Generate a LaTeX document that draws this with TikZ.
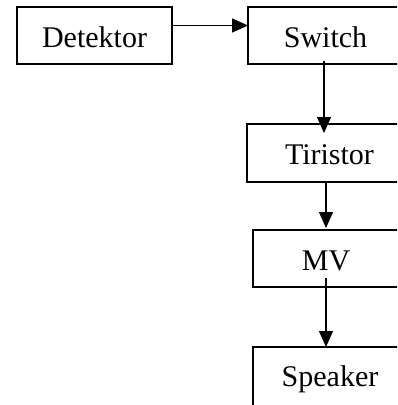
\documentclass[tikz,border=0pt]{standalone}
\usepackage{fontspec}
\setmainfont{Liberation Serif}
\usetikzlibrary{arrows.meta}
\begin{document}
\begin{tikzpicture}[x=1pt, y=-1pt,
  box/.style={draw, line width=2pt, inner sep=0pt, outer sep=0pt,
    minimum height=57pt, text height=25pt, text depth=2pt,
    font=\fontsize{30}{36}\selectfont},
  flow/.style={line width=1.3pt, -{Triangle[length=16pt, width=14pt]}}]
  \useasboundingbox (0,0) rectangle (397,405);
  \clip (0,0) rectangle (397,405);

  % blocks of the chain
  \node[box, minimum width=155pt] (det) at (94.5,35.5) {Detektor};
  \node[box, minimum width=155pt] (sw)  at (325.5,35.5) {Switch};
  \node[box, minimum width=165pt, minimum height=58pt] (tir) at (329.5,153) {Tiristor};
  \node[box, minimum width=146pt] (mv)  at (326,258.5) {MV};
  \node[box, minimum width=154pt, minimum height=64pt,
        text height=20pt, text depth=6pt] (spk) at (330,379) {Speaker};

  % signal path
  \draw[flow] ([yshift=10pt]det.east) -- ([yshift=10pt]det.east -| sw.west);
  \draw[flow] ([xshift=-1.5pt,yshift=3pt]sw.south) -- ([xshift=-1.5pt,yshift=-9pt]tir.north -| sw.south);
  \draw[flow] (tir.south -| mv.north) -- ([yshift=2pt]mv.north);
  \draw[flow] ([yshift=9pt]mv.south) -- (spk.north -| mv.south);
\end{tikzpicture}
\end{document}
